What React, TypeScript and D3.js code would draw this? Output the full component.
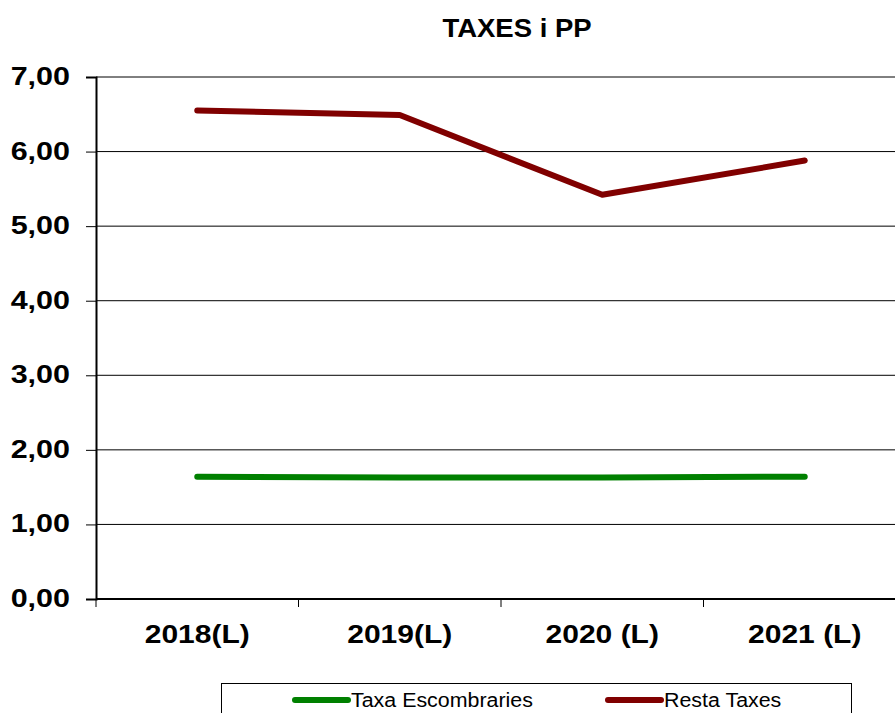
import { useEffect, useRef } from 'react';
import * as d3 from 'd3';

const categories = ['2018(L)', '2019(L)', '2020 (L)', '2021 (L)'];
const taxaEscombraries = [1.64, 1.63, 1.63, 1.64];
const restaTaxes = [6.55, 6.49, 5.42, 5.88];
const yTicks = [0, 1, 2, 3, 4, 5, 6, 7];

const series = [
  { name: 'Taxa Escombraries', values: taxaEscombraries, color: '#008000' },
  { name: 'Resta Taxes', values: restaTaxes, color: '#800000' },
];

const FONT = 'Arial, "Liberation Sans", sans-serif';

export default function App() {
  const svgRef = useRef<SVGSVGElement>(null);

  useEffect(() => {
    if (!svgRef.current) return;
    const svg = d3.select(svgRef.current);
    svg.selectAll('*').remove();

    const width = 895;
    const height = 713;
    const left = 96;
    const top = 77;
    const bottom = 599;

    svg.attr('width', width).attr('height', height);

    const x = d3.scaleBand<string>()
      .domain(categories)
      .range([left, left + 4 * 202.5])
      .padding(0);

    const y = d3.scaleLinear().domain([0, 7]).range([bottom, top]);
    const fmt = (d: number) => d3.format('.2f')(d).replace('.', ',');

    // Gridlines
    svg.append('g')
      .selectAll('line')
      .data(yTicks.filter(t => t > 0))
      .enter()
      .append('line')
      .attr('x1', left)
      .attr('x2', width)
      .attr('y1', d => y(d))
      .attr('y2', d => y(d))
      .attr('stroke', '#000')
      .attr('stroke-width', 1);

    // Y axis
    svg.append('g')
      .attr('transform', `translate(${left},0)`)
      .call(d3.axisLeft(y).tickValues(yTicks).tickSize(10).tickFormat(() => ''))
      .call(g => g.select('.domain').attr('stroke', '#000').attr('stroke-width', 2))
      .call(g => g.selectAll('.tick line').attr('stroke', '#000').attr('stroke-width', 1));

    svg.append('g')
      .selectAll('text')
      .data(yTicks)
      .enter()
      .append('text')
      .attr('transform', d => `translate(70,${y(d) + 8}) scale(1.22,1)`)
      .attr('text-anchor', 'end')
      .attr('font-family', FONT)
      .attr('font-size', '25px')
      .attr('font-weight', 'bold')
      .text(d => fmt(d));

    // X axis
    const xTickPos = d3.range(categories.length + 1).map(i => left + i * x.step());
    svg.append('line')
      .attr('x1', left).attr('x2', width)
      .attr('y1', bottom).attr('y2', bottom)
      .attr('stroke', '#000').attr('stroke-width', 2);
    svg.append('g')
      .selectAll('line')
      .data(xTickPos)
      .enter()
      .append('line')
      .attr('x1', d => d).attr('x2', d => d)
      .attr('y1', bottom).attr('y2', bottom + 8)
      .attr('stroke', '#000').attr('stroke-width', 1);
    svg.append('g')
      .selectAll('text')
      .data(categories)
      .enter()
      .append('text')
      .attr('transform', d => `translate(${x(d)! + x.bandwidth() / 2},643) scale(1.2,1)`)
      .attr('text-anchor', 'middle')
      .attr('font-family', FONT)
      .attr('font-size', '25px')
      .attr('font-weight', 'bold')
      .text(d => d);

    // Lines
    const line = d3.line<number>()
      .x((_, i) => x(categories[i])! + x.bandwidth() / 2)
      .y(d => y(d));

    series.forEach(s => {
      svg.append('path')
        .datum(s.values)
        .attr('d', line)
        .attr('fill', 'none')
        .attr('stroke', s.color)
        .attr('stroke-width', 6)
        .attr('stroke-linecap', 'round')
        .attr('stroke-linejoin', 'round');
    });

    // Title
    svg.append('text')
      .attr('transform', 'translate(517,37) scale(1.1,1)')
      .attr('text-anchor', 'middle')
      .attr('font-family', FONT)
      .attr('font-size', '25px')
      .attr('font-weight', 'bold')
      .text('TAXES i PP');

    // Legend
    svg.append('rect')
      .attr('x', 221.5).attr('y', 683.5)
      .attr('width', 630).attr('height', 40)
      .attr('fill', '#fff')
      .attr('stroke', '#000').attr('stroke-width', 1);
    const legendX = [295, 608];
    series.forEach((s, i) => {
      svg.append('line')
        .attr('x1', legendX[i]).attr('x2', legendX[i] + 53)
        .attr('y1', 700).attr('y2', 700)
        .attr('stroke', s.color).attr('stroke-width', 6)
        .attr('stroke-linecap', 'round');
      svg.append('text')
        .attr('transform', `translate(${legendX[i] + 56},707) scale(1.07,1)`)
        .attr('font-family', FONT)
        .attr('font-size', '20px')
        .text(s.name);
    });
  }, []);

  return (
    <svg ref={svgRef} style={{ position: 'absolute', left: 0, top: 0, background: '#fff' }} />
  );
}
